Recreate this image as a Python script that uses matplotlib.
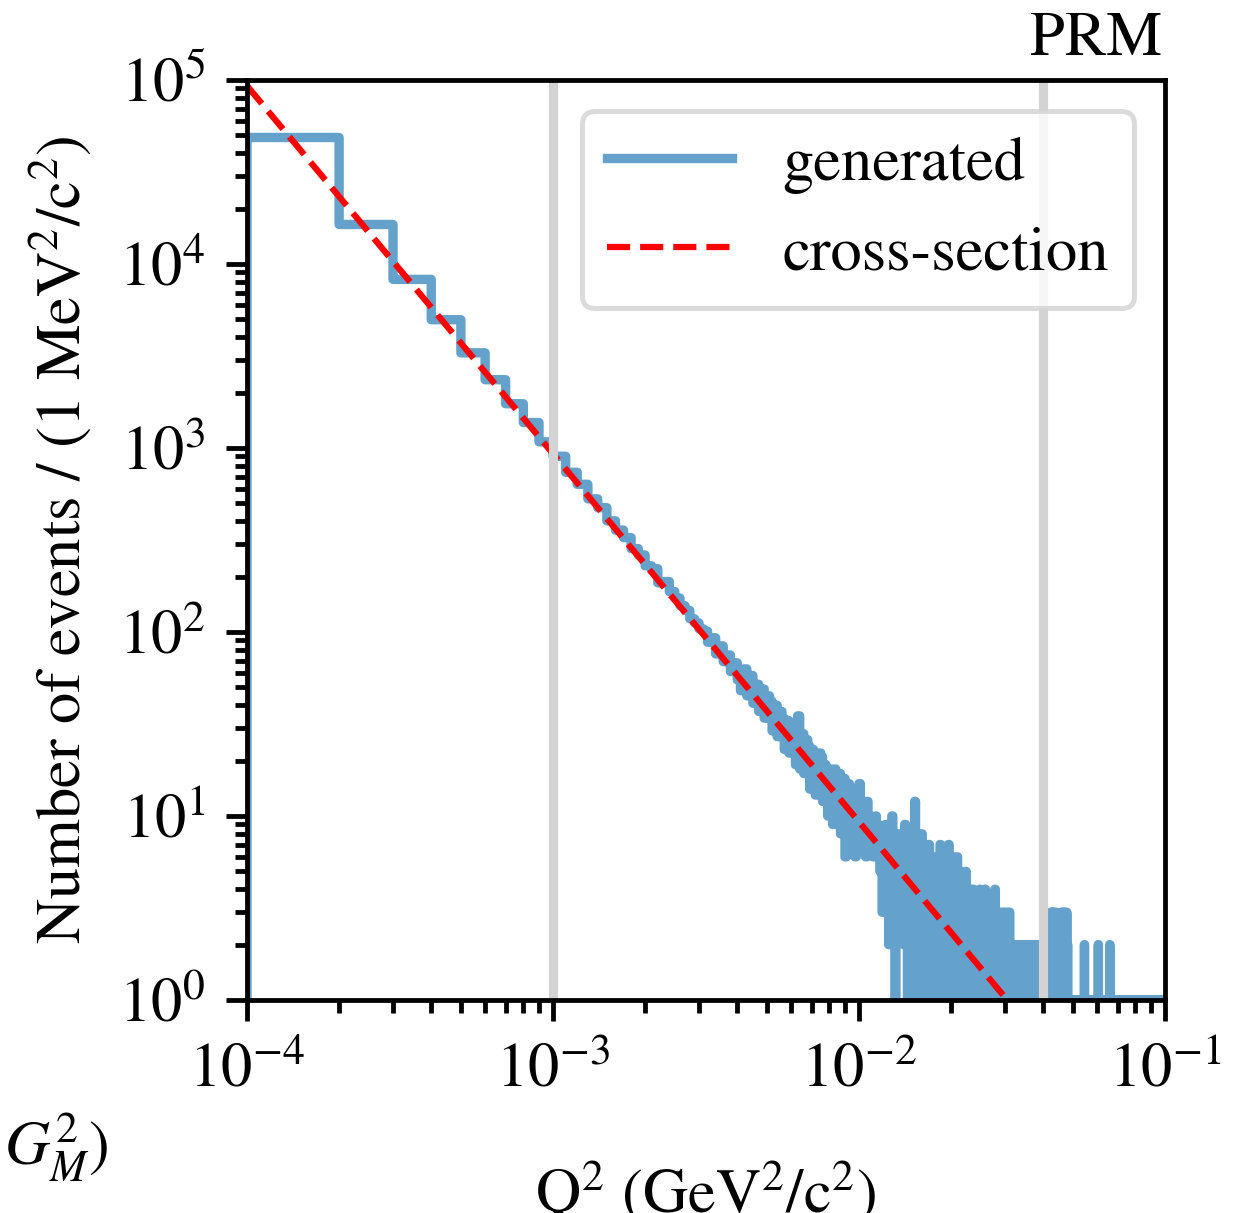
import matplotlib
matplotlib.use("Agg")
import matplotlib.pyplot as plt
import numpy as np

plt.rcParams["font.family"] = "serif"
plt.rcParams["font.serif"] = ["STIXGeneral", "Liberation Serif", "DejaVu Serif"]
plt.rcParams["mathtext.fontset"] = "stix"

# Q^2 binning: 1e-4 GeV^2 wide bins from 1e-4 to 0.1
bin_width = 1e-4
n_bins = 999

# generated counts, bins 1..100
counts_low = [
    48700, 16400, 8250, 4980, 3290, 2350, 1740, 1375, 1080, 902,
    738, 635, 529, 474, 402, 358, 326, 284, 262, 229,
    221, 185, 188, 166, 153, 139, 131, 118, 112, 104,
    101, 88, 93, 76, 84, 69, 75, 61, 68, 55,
    48, 63, 45, 58, 41, 52, 37, 49, 34, 45,
    42, 29, 40, 27, 37, 34, 23, 33, 22, 31,
    29, 19, 35, 18, 28, 17, 26, 24, 14, 23,
    20, 13, 17, 22, 21, 12, 19, 17, 10, 18,
    16, 9, 18, 15, 10, 17, 8, 14, 16, 6,
    13, 15, 7, 12, 14, 8, 6, 13, 9, 15,
]

# bins 101..250
counts_mid = [
    8, 11, 7, 9, 6, 12, 8, 10, 7, 9,
    6, 8, 10, 7, 9, 6, 5, 8, 3, 7,
    6, 9, 4, 6, 2, 7, 5, 10, 4, 6,
    1, 6, 4, 8, 3, 5, 3, 7, 4, 2,
    9, 3, 5, 1, 6, 4, 8, 0, 5, 3,
    6, 12, 4, 2, 7, 3, 1, 5, 4, 8,
    0, 3, 6, 2, 1, 5, 2, 3, 7, 3,
    2, 5, 4, 2, 1, 4, 0, 6, 2, 3,
    1, 5, 2, 7, 0, 3, 4, 1, 6, 2,
    0, 3, 5, 1, 2, 7, 3, 0, 4, 2,
    1, 6, 3, 0, 2, 5, 1, 3, 6, 2,
    0, 4, 1, 3, 5, 0, 2, 4, 1, 3,
    0, 2, 5, 1, 3, 2, 0, 4, 1, 2,
    4, 0, 3, 1, 2, 4, 0, 1, 3, 2,
    0, 3, 1, 2, 3, 0, 1, 4, 2, 0,
]

# bins 251..999, one digit per bin (small counts)
counts_tail = (
    "1203120401" "3020130120" "1203102410" "2130120301" "2013020130"
    "1201302013" "01201"
    "1020110201" "0120011021" "0102100120" "1001201020" "1102001021"
    "0012010201" "2010010210" "1020100120" "012010201"
    "1020102010" "0210120103" "1030120301" "0201310201" "0210120102"
    "1030120103" "0120301020" "1031020100" "100101"
    "0100010010" "0010100001" "0100100010" "0010001001" "0100010000"
    "1000200100" "0010000101" "0000100010" "0100001000" "1000100001"
    "0010000100" "0001200010" "0100001000" "0010000010" "1000100000"
    "0010000100" "0001000002" "0100000100" "0001000010" "0000100000"
    "1000001000" "0000100000" "0100000010" "0000010000" "1000000100"
    "0000100000" "0010000001" "0000010000" "0100000000" "1000001000"
    "0000100000" "0010000010" "0000000100" "0100000000" "0000100001"
    "0000000100" "0010000000" "1000001000" "0000000010" "0001000000"
    "0000010000" "1000000001" "0000010000" "0001000000" "0000000100"
    "0100000000" "0000010000" "0010000001" "0000000100" "0000100000"
    "100000010"
)

counts = np.array(counts_low + counts_mid + [int(c) for c in counts_tail], dtype=float)
assert len(counts) == n_bins
edges = bin_width * np.arange(1, n_bins + 2)

# cross-section curve
q2_xsec = [1e-4, 1e-3, 1e-2, 1e-1]
xsec = [9.3e4, 930, 9.3, 0.093]

# reference Q^2 values marked with grey lines
q2_marks = [1e-3, 0.04]

fig = plt.figure(figsize=(1233 / 300, 1213 / 300), dpi=300)
ax = fig.add_axes([247 / 1233, 1 - 1000 / 1213, 918 / 1233, 920 / 1213])

ax.stairs(counts, edges, color="#64a1cb", lw=2.25, label="generated",
          joinstyle="round", capstyle="round", zorder=2)
ax.plot(q2_xsec, xsec, ls="--", color="red", lw=1.5, label="cross-section", zorder=2.2)
for q in q2_marks:
    ax.axvline(q, color="lightgray", lw=2.2, zorder=2.5)

ax.set_xscale("log")
ax.set_yscale("log")
ax.set_xlim(1e-4, 1e-1)
ax.set_ylim(1, 1e5)

fs = 15
ax.set_xlabel(r"Q$^2$ (GeV$^2$/c$^2$)", fontsize=fs, labelpad=14)
ax.set_ylabel(r"Number of events / (1 MeV$^2$/c$^2$)", fontsize=fs, labelpad=6)

for sp in ax.spines.values():
    sp.set_linewidth(1.15)
ax.tick_params(which="major", length=5, width=1.15, labelsize=fs)
ax.tick_params(which="minor", length=3, width=1.15)
ax.tick_params(axis="x", which="major", pad=5.5)
ax.tick_params(axis="y", which="major", pad=5)

leg = ax.legend(loc="upper right", fontsize=fs, fancybox=True, framealpha=0.8)
leg.get_frame().set_edgecolor("lightgray")
leg.get_frame().set_linewidth(1.2)

fig.text(1162 / 1233, 1 - 55 / 1213, "PRM", fontsize=fs, ha="right", va="baseline")
fig.text(4 / 1233, 1 - 1165 / 1213, r"$G_M^2)$", fontsize=fs, ha="left", va="baseline")

fig.savefig("out.png", dpi=300)
